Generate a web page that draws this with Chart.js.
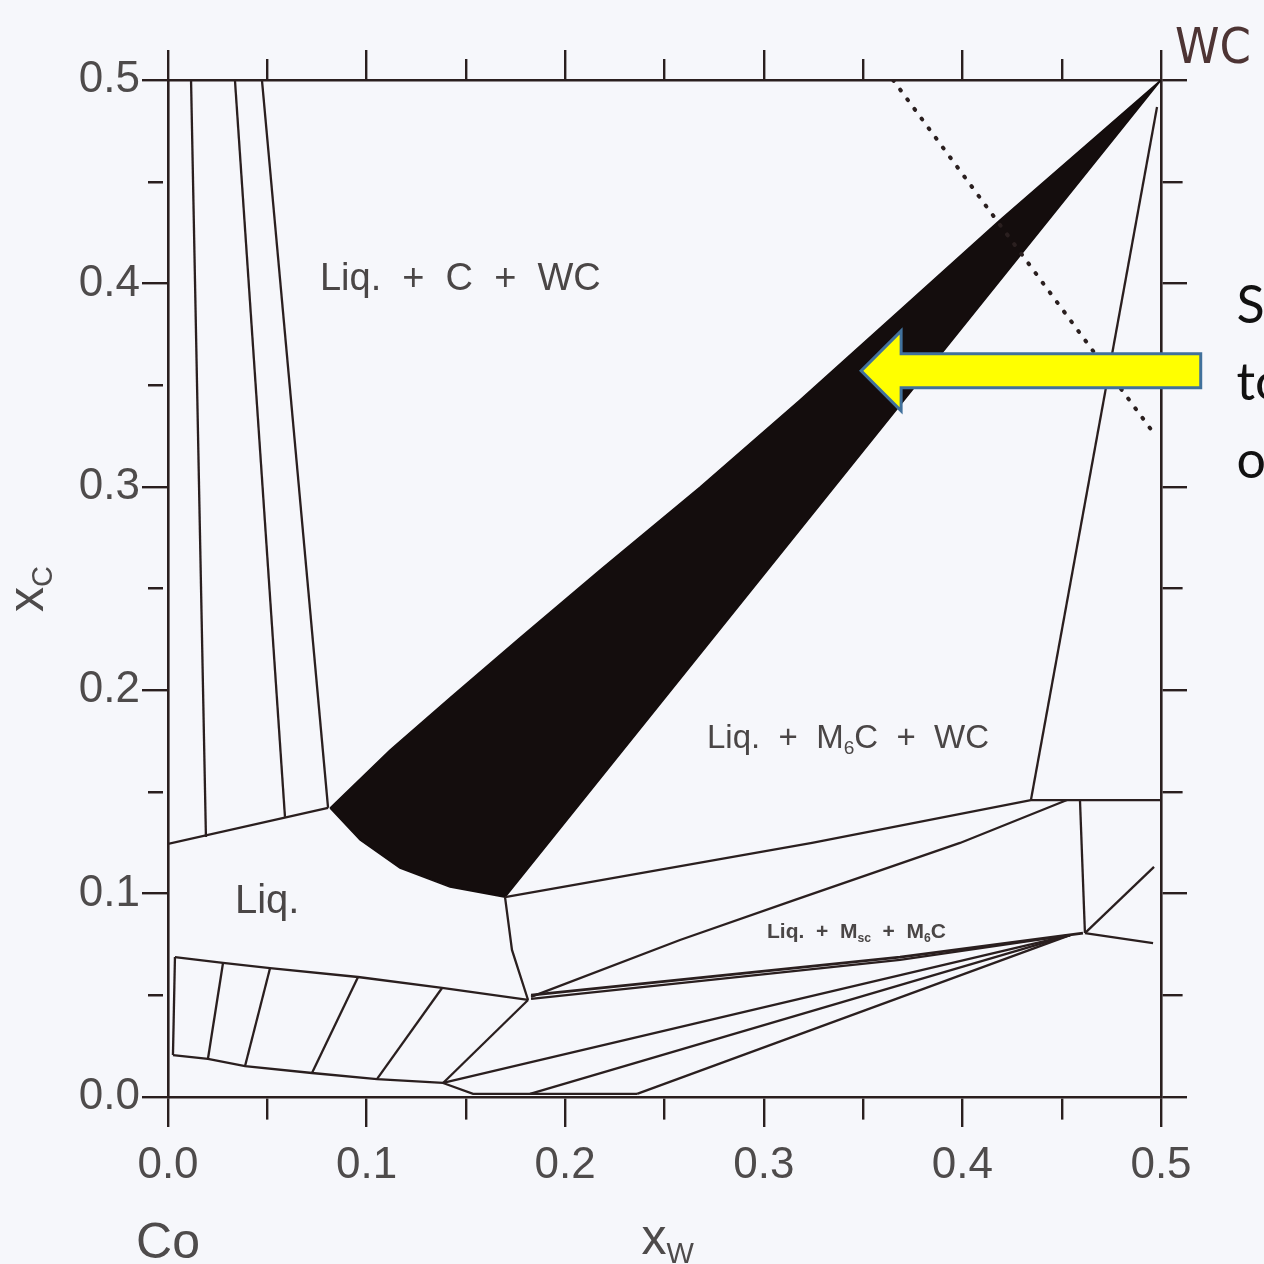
<!DOCTYPE html>
<html>
<head>
<meta charset="utf-8">
<script src="https://cdn.jsdelivr.net/npm/chart.js@4.4.1/dist/chart.umd.min.js"></script>
<style>
  html, body { margin: 0; padding: 0; background: #f6f7fb; }
  canvas { display: block; }
</style>
</head>
<body>
<canvas id="phaseChart" width="1264" height="1264"></canvas>
<script>
// tick positions and labels (mole fraction)
const tickValues = [0, 0.05, 0.1, 0.15, 0.2, 0.25, 0.3, 0.35, 0.4, 0.45, 0.5];
const tickLabels = ['0.0', '', '0.1', '', '0.2', '', '0.3', '', '0.4', '', '0.5'];

// phase boundaries, points are [x_W, x_C]
const lineA = [[0.0116, 0.5], [0.0191, 0.1278]];
const lineB = [[0.0337, 0.5], [0.0589, 0.1377]];
const lineC = [[0.0473, 0.5], [0.0806, 0.1421]];
const liqUpper = [[0, 0.1244], [0.0806, 0.1421]];

// solid black three-phase wedge
const wedge = [
  [0.0816, 0.1421], [0.1118, 0.1706], [0.1420, 0.1962], [0.1772, 0.2257],
  [0.2175, 0.2591], [0.2679, 0.2999], [0.3182, 0.3427], [0.3686, 0.3869],
  [0.4189, 0.4312], [0.4693, 0.4739], [0.5, 0.5],
  [0.1697, 0.0983],
  [0.1420, 0.1032], [0.1168, 0.1126], [0.0967, 0.1264], [0.0816, 0.1421]
];

const liqCorner = [[0.1697, 0.0983], [0.1732, 0.0723], [0.1813, 0.0477]];
const m6cBoundary = [[0.1697, 0.0983], [0.3243, 0.1249], [0.4345, 0.1460]];
const topRight = [[0.4345, 0.1460], [0.5, 0.1460]];
const rightLine = [[0.4345, 0.1460], [0.4980, 0.4867]];
const etaCurve = [[0.1828, 0.0492], [0.2578, 0.0772], [0.3157, 0.0969], [0.3988, 0.1249], [0.4527, 0.1460]];
const vertLine = [[0.4592, 0.1460], [0.4617, 0.0806]];
const rightLow = [[0.4617, 0.0806], [0.4960, 0.0757]];
const rightUp = [[0.4617, 0.0806], [0.4965, 0.1131]];
const fanThickA = [[0.1828, 0.0501], [0.3686, 0.0688], [0.4607, 0.0806]];
const fanThickB = [[0.1828, 0.0482], [0.3686, 0.0674], [0.4542, 0.0796]];
const fan2 = [[0.1385, 0.0069], [0.4542, 0.0796]];
const fan3 = [[0.1823, 0.0015], [0.4542, 0.0796]];
const fan4 = [[0.2362, 0.0015], [0.4542, 0.0796]];
const bottomSeg = [[0.1385, 0.0069], [0.1536, 0.0015], [0.2362, 0.0015]];

// liquid + fcc field with tie lines
const tieTop = [[0.0035, 0.0688], [0.0277, 0.0659], [0.0514, 0.0634], [0.0957, 0.0590], [0.1380, 0.0536], [0.1813, 0.0477]];
const tieLeft = [[0.0035, 0.0688], [0.0025, 0.0206]];
const tieBottom = [[0.0025, 0.0206], [0.0201, 0.0187], [0.0388, 0.0152], [0.0725, 0.0118], [0.1052, 0.0088], [0.1385, 0.0069]];
const tie1 = [[0.0277, 0.0659], [0.0201, 0.0187]];
const tie2 = [[0.0514, 0.0634], [0.0388, 0.0152]];
const tie3 = [[0.0957, 0.0590], [0.0725, 0.0118]];
const tie4 = [[0.1380, 0.0536], [0.1052, 0.0088]];
const liqToFan = [[0.1813, 0.0477], [0.1385, 0.0069]];

// dotted section line
const dottedLine = [[0.3651, 0.5], [0.4970, 0.3255]];

const INK = '#2a1f1f';
const GREY = '#4e4b4b';
const FONT = "'Liberation Sans', Arial, sans-serif";

function toPts(arr) {
  return arr.map(p => ({ x: p[0], y: p[1] }));
}

const plainLines = [lineA, lineB, lineC, liqUpper, liqCorner, m6cBoundary, topRight, rightLine,
  etaCurve, vertLine, rightLow, rightUp, fanThickB, fan2, fan3, fan4, bottomSeg,
  tieTop, tieLeft, tieBottom, tie1, tie2, tie3, tie4, liqToFan];

const datasets = [];
datasets.push({
  data: toPts(fanThickA), showLine: true, pointRadius: 0, borderColor: INK, borderWidth: 2.8
});
plainLines.forEach(l => {
  datasets.push({ data: toPts(l), showLine: true, pointRadius: 0, borderColor: INK, borderWidth: 2.3 });
});
datasets.push({
  data: toPts(dottedLine), showLine: true, pointRadius: 0, borderColor: INK, borderWidth: 4,
  borderDash: [1, 11], borderCapStyle: 'round'
});
datasets.push({
  data: toPts(wedge), showLine: true, pointRadius: 0, borderColor: '#140d0d', borderWidth: 1.5,
  backgroundColor: '#140d0d', fill: 'shape'
});

// text with subscript pieces
function drawRich(ctx, x, y, parts, size, weight) {
  let cx = x;
  parts.forEach(p => {
    const sub = p[1];
    const fs = sub ? size * 0.58 : size;
    ctx.font = (weight || '') + ' ' + fs + 'px ' + FONT;
    ctx.fillText(p[0], cx, sub ? y + size * 0.18 : y);
    cx += ctx.measureText(p[0]).width;
  });
}

const regionLabels = [
  { x: 0.0765, y: 0.3968, size: 38, parts: [['Liq.  +  C  +  WC', false]] },
  { x: 0.2714, y: 0.1716, size: 33, parts: [['Liq.  +  M', false], ['6', true], ['C  +  WC', false]] },
  { x: 0.0337, y: 0.0905, size: 40, parts: [['Liq.', false]] },
  { x: 0.3016, y: 0.0782, size: 21, weight: 'bold', parts: [['Liq.  +  M', false], ['sc', true], ['  +  M', false], ['6', true], ['C', false]] }
];

const annotations = {
  id: 'annotations',
  afterDraw(chart) {
    const ctx = chart.ctx;
    const xs = chart.scales.x, ys = chart.scales.y;
    const area = chart.chartArea;
    ctx.save();
    ctx.textBaseline = 'alphabetic';
    ctx.textAlign = 'left';

    ctx.fillStyle = '#4a4646';
    regionLabels.forEach(l => {
      drawRich(ctx, xs.getPixelForValue(l.x), ys.getPixelForValue(l.y), l.parts, l.size, l.weight);
    });

    // component names and axis titles
    ctx.fillStyle = GREY;
    ctx.font = '50px ' + FONT;
    ctx.textAlign = 'center';
    ctx.fillText('Co', xs.getPixelForValue(0), area.bottom + 161);
    ctx.textAlign = 'left';
    drawRich(ctx, xs.getPixelForValue(0.2384), area.bottom + 157, [['x', false], ['W', true]], 50);

    ctx.save();
    ctx.translate(43, ys.getPixelForValue(0.2384));
    ctx.rotate(-Math.PI / 2);
    drawRich(ctx, 0, 0, [['x', false], ['C', true]], 50);
    ctx.restore();

    ctx.fillStyle = '#4d3434';
    ctx.font = "50px 'DejaVu Sans Condensed', 'DejaVu Sans', sans-serif";
    ctx.fillText('WC', xs.getPixelForValue(0.507), ys.getPixelForValue(0.5085));

    // yellow call-out arrow
    const tipX = xs.getPixelForValue(0.349), tipY = ys.getPixelForValue(0.357);
    const tailX = xs.getPixelForValue(0.52);
    const head = 40, half = 17;
    ctx.beginPath();
    ctx.moveTo(tipX, tipY);
    ctx.lineTo(tipX + head, tipY - 40);
    ctx.lineTo(tipX + head, tipY - half);
    ctx.lineTo(tailX, tipY - half);
    ctx.lineTo(tailX, tipY + half);
    ctx.lineTo(tipX + head, tipY + half);
    ctx.lineTo(tipX + head, tipY + 40);
    ctx.closePath();
    ctx.fillStyle = '#ffff00';
    ctx.fill();
    ctx.lineWidth = 3;
    ctx.strokeStyle = '#41719c';
    ctx.stroke();

    // side note, cut off by the page edge
    ctx.fillStyle = '#111111';
    ctx.font = "52px Lato, 'Open Sans', sans-serif";
    const sx = xs.getPixelForValue(0.538);
    ctx.fillText('S', sx, ys.getPixelForValue(0.3805));
    ctx.fillText('to', sx, ys.getPixelForValue(0.3427));
    ctx.fillText('o', sx, ys.getPixelForValue(0.3043));
    ctx.restore();
  }
};

// minor ticks are drawn shorter with a dash pattern on the tick stroke
function axisCfg(position, size, showLabels, tickLen, pad, minorDash) {
  return {
    type: 'linear',
    position: position,
    min: 0,
    max: 0.5,
    afterBuildTicks: axis => { axis.ticks = tickValues.map(v => ({ value: v })); },
    afterFit: axis => {
      if (position === 'left' || position === 'right') axis.width = size;
      else axis.height = size;
    },
    grid: {
      drawOnChartArea: false,
      drawTicks: true,
      tickLength: tickLen,
      color: INK,
      lineWidth: 2.4,
      tickBorderDash: ctx => (ctx.index % 2 === 1 ? minorDash : [])
    },
    border: { display: true, color: INK, width: 2.6 },
    ticks: {
      display: showLabels,
      padding: pad,
      color: GREY,
      font: { family: FONT, size: 44 },
      maxRotation: 0,
      autoSkip: false,
      callback: (v, i) => tickLabels[i]
    }
  };
}

new Chart(document.getElementById('phaseChart'), {
  type: 'scatter',
  data: { datasets: datasets },
  options: {
    responsive: false,
    animation: false,
    layout: { padding: 0 },
    plugins: { legend: { display: false }, tooltip: { enabled: false } },
    scales: {
      x: axisCfg('bottom', 167, true, 30, 12, [21, 60]),
      y: axisCfg('left', 168, true, 26, 2, [0, 6, 15, 60]),
      x2: axisCfg('top', 80, false, 30, 0, [0, 9, 21, 60]),
      y2: axisCfg('right', 103, false, 26, 0, [20, 60])
    }
  },
  plugins: [annotations]
});
</script>
</body>
</html>
